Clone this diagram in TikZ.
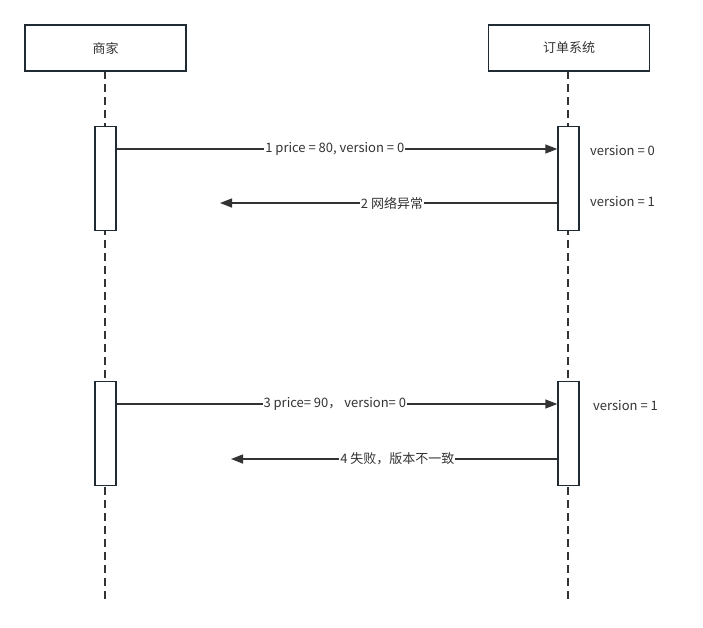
\documentclass[tikz,border=0pt]{standalone}
\usepackage{fontspec}
\setmainfont{Noto Sans CJK SC}
\usetikzlibrary{arrows.meta, positioning, calc}

\begin{document}
\begin{tikzpicture}[x=1pt, y=-1pt, font=\fontsize{13}{15}\selectfont]
    % Define colours
    \definecolor{lineColour}{HTML}{333333}
    \definecolor{boxColour}{HTML}{1F2A33}
    \definecolor{textColour}{HTML}{333333}

    \tikzset{
        actor/.style={draw=boxColour, line width=1.6pt, fill=white, minimum width=161pt, minimum height=46pt, text=textColour, inner sep=0pt},
        lifeline/.style={draw=lineColour, line width=1.5pt, dash pattern=on 8pt off 5pt},
        activation/.style={draw=boxColour, line width=1.4pt, fill=white, minimum width=21pt, minimum height=104pt, inner sep=0pt, anchor=north},
        msg/.style={draw=lineColour, line width=1.4pt, -{Triangle[length=12pt, width=9pt]}},
        msglabel/.style={fill=white, text=textColour, inner sep=1pt},
        statelabel/.style={text=textColour, anchor=west, inner sep=0pt}
    }

    \useasboundingbox (0,0) rectangle (703,627);

    % Lifelines
    \draw[lifeline] (105,71) -- (105,600);
    \draw[lifeline] (568,71) -- (568,600);

    % Actors
    \node[actor] (merchant) at (105.5,48) {商家};
    \node[actor] (order) at (569,48) {订单系统};

    % Activation bars
    \node[activation] (mbarA) at (105.5,126) {};
    \node[activation] (obarA) at (568.5,126) {};
    \node[activation] (mbarB) at (105.5,381) {};
    \node[activation] (obarB) at (568.5,381) {};

    % First request
    \coordinate (lostA) at (220,203);
    \draw[msg] ([yshift=-23pt]mbarA.north east) -- ([yshift=-23pt]obarA.north west)
        node[msglabel, pos=0.495] {1 price = 80, version = 0};
    \draw[msg] ([yshift=-77pt]obarA.north west) -- (lostA)
        node[msglabel, pos=0.49] {2 网络异常};
    \node[statelabel] (stateA) at (590,151) {version = 0};
    \node[statelabel] (stateB) at (590,202) {version = 1};

    % Second request
    \coordinate (lostB) at (231,459);
    \draw[msg] ([yshift=-23pt]mbarB.north east) -- ([yshift=-23pt]obarB.north west)
        node[msglabel, pos=0.495] {3 price= 90， version= 0};
    \draw[msg] ([yshift=-78pt]obarB.north west) -- (lostB)
        node[msglabel, pos=0.49] {4 失败，版本不一致};
    \node[statelabel] (stateC) at (593,406) {version = 1};
\end{tikzpicture}
\end{document}
